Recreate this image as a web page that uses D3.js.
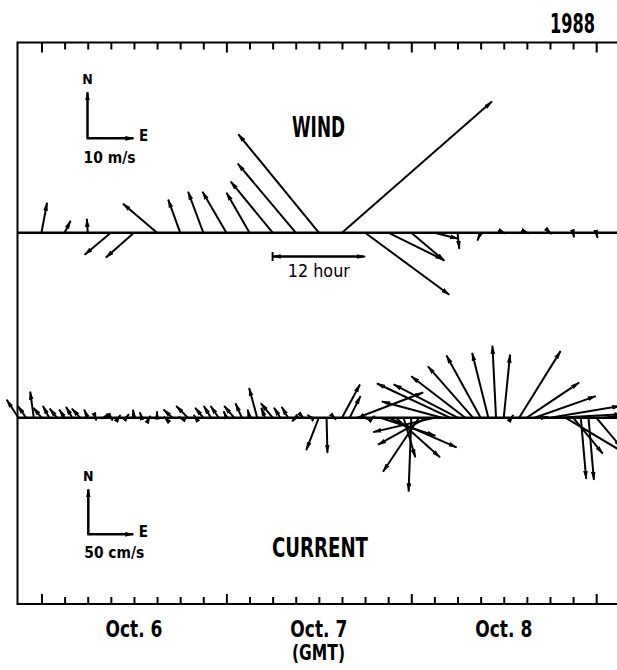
<!DOCTYPE html>
<html>
<head>
<meta charset="UTF-8">
<title>Wind and current 1988</title>
<script src="https://cdn.jsdelivr.net/npm/d3@7"></script>
<style>
body{margin:0;background:#fff}
text{font-family:"Liberation Sans Narrow","DejaVu Sans Condensed","Liberation Sans",sans-serif;font-weight:bold;fill:#000}
</style>
</head>
<body>
<script>
// wind, every 3 h from Oct 6 00 GMT (m/s)
var windStart = Date.UTC(1988, 9, 6, 0)
var windU = [1.2, 1.3, -0.2, -5.7, -6.1, -7.4, -2.6, -3.3, -5.2, -5.0, -9.1, -12.6, -17.5, 32.6, 18.3, 12.0, 7.2, 5.2, 0.4, -0.7, 0.4, 0.4, 0.3, 0.2, 0.3]
var windV = [6.5, 2.6, 3.0, -4.8, -5.4, 6.3, 7.2, 8.9, 8.9, 8.7, 11.1, 15.0, 21.4, 28.5, -13.5, -5.9, -6.1, -1.3, -3.5, -1.7, -0.2, -0.2, -0.3, -1.0, -1.1]

// current, hourly from Oct 5 21 GMT (cm/s)
var curStart = Date.UTC(1988, 9, 5, 21)
var curU = [-13, -9, -4, -9, -7, -8, -6, -7, -9, -4, 1, -2, 2, 2, 3, -1, -2, 1, 0, -1,
            -10, -2, -13, -2, -9, -8, -9, -3, -11, -7, -2, -9, -4, -13, -7, -7, -4, 1, -4, -14,
            1, 2, 20, 12, 73, 3, 2, 61, 76, 49, 13, -3, -40, -54, -68, -67, -81, -71, -60, -50,
            -38, -18, -4, 7, 2, 46, 58, 68, 7, 78, 72, 67, 33, 6, 6, 28, 22, 17]
var curV = [20, 13, 29, 11, 13, 10, 9, 12, 10, 9, -3, -1, -3, 3, 4, 9, 6, 2, 7, 1,
            9, 1, 13, 3, 11, 13, 13, 7, 13, 16, 9, 33, 11, 16, 11, 12, -4, -1, 3, -36,
            -39, -2, 37, 24, 28, -2, 2, -20, -33, -44, -44, -82, -60, -30, -16, 18, 38, 37, 46, 57,
            69, 72, 80, 70, 3, 74, 39, 24, 1, 13, 4, -40, -40, -68, -69, -33, 3, 2]

var dayLabels = ["Oct. 6", "Oct. 7", "Oct. 8"]
var dayNoons = [Date.UTC(1988, 9, 6, 12), Date.UTC(1988, 9, 7, 12), Date.UTC(1988, 9, 8, 12)]

var W = 617, H = 670
var frameL = 17.5, frameT = 42.5, frameB = 604
var windY = 232.7, curY = 417.7

var svg = d3.select("body").append("svg")
  .attr("width", W).attr("height", H)
  .style("background", "white")

var x = d3.scaleUtc()
  .domain([Date.UTC(1988, 9, 6), Date.UTC(1988, 9, 9)])
  .range([41.5, 596.2])
var ws = d3.scaleLinear().domain([0, 10]).range([0, 46])   // m/s -> px
var cs = d3.scaleLinear().domain([0, 50]).range([0, 45])   // cm/s -> px

var defs = svg.append("defs")
defs.append("marker")
  .attr("id", "head")
  .attr("markerUnits", "userSpaceOnUse")
  .attr("viewBox", "0 -3 10 6")
  .attr("refX", 9).attr("refY", 0)
  .attr("markerWidth", 9).attr("markerHeight", 5.4)
  .attr("orient", "auto")
  .append("path").attr("d", "M0,-2.6L10,0L0,2.6Z").attr("fill", "#000")

// frame
svg.append("path")
  .attr("d", "M" + W + "," + frameT + "H" + frameL + "V" + frameB + "H" + W)
  .attr("fill", "none").attr("stroke", "#000").attr("stroke-width", 2)

// ticks every 3 hours, longer at midnight
var tv = d3.utcHours(Date.UTC(1988, 9, 6), Date.UTC(1988, 9, 9, 1), 3)
var minor = tv.filter(function(d) { return d.getUTCHours() != 0 })
var major = tv.filter(function(d) { return d.getUTCHours() == 0 })

function tickAxis(gen, vals, size, y) {
  var g = svg.append("g").attr("transform", "translate(0," + y + ")")
    .call(gen(x).tickValues(vals).tickSize(size).tickFormat(""))
  g.select(".domain").remove()
  g.selectAll("line").attr("stroke-width", 2)
}
tickAxis(d3.axisBottom, minor, 7, frameT)
tickAxis(d3.axisBottom, major, 10, frameT)
tickAxis(d3.axisTop, minor, 7, frameB)
tickAxis(d3.axisTop, major, 10, frameB)

// zero lines
svg.append("line").attr("x1", frameL).attr("x2", W).attr("y1", windY).attr("y2", windY)
  .attr("stroke", "#000").attr("stroke-width", 2.5)
svg.append("line").attr("x1", frameL).attr("x2", W).attr("y1", curY).attr("y2", curY)
  .attr("stroke", "#000").attr("stroke-width", 2.5)

function sticks(u, v, start, stepH, s, y0) {
  var data = u.map(function(d, i) { return {t: start + i * stepH * 3600000, u: d, v: v[i]} })
  svg.append("g").selectAll("line").data(data).enter().append("line")
    .attr("x1", function(d) { return x(d.t) })
    .attr("y1", y0)
    .attr("x2", function(d) { return x(d.t) + (d.u < 0 ? -s(-d.u) : s(d.u)) })
    .attr("y2", function(d) { return y0 - (d.v < 0 ? -s(-d.v) : s(d.v)) })
    .attr("stroke", "#000").attr("stroke-width", 2)
    .attr("marker-end", "url(#head)")
}
sticks(windU, windV, windStart, 3, ws, windY)
sticks(curU, curV, curStart, 1, cs, curY)

// scale keys
function key(ox, oy, s, val, unit, unitW, unitY) {
  svg.append("line").attr("x1", ox).attr("y1", oy).attr("x2", ox).attr("y2", oy - s(val))
    .attr("stroke", "#000").attr("stroke-width", 2.5).attr("marker-end", "url(#head)")
  svg.append("line").attr("x1", ox - 1).attr("y1", oy).attr("x2", ox + s(val)).attr("y2", oy)
    .attr("stroke", "#000").attr("stroke-width", 2.5).attr("marker-end", "url(#head)")
  svg.append("text").attr("x", ox).attr("y", oy - s(val) - 8).attr("text-anchor", "middle")
    .attr("font-size", 14).text("N")
  svg.append("text").attr("x", ox + s(val) + 10).attr("y", oy + 3).attr("text-anchor", "middle")
    .attr("font-size", 15).text("E")
  svg.append("text").attr("x", ox - 4).attr("y", unitY).attr("font-size", 16)
    .attr("textLength", unitW).attr("lengthAdjust", "spacingAndGlyphs").text(unit)
}
key(87.5, 138.3, ws, 10, "10 m/s", 52, 163)
key(88.3, 534.3, cs, 50, "50 cm/s", 60, 558)

// 12 hour bar
var b0 = x(Date.UTC(1988, 9, 7, 6)), b1 = x(Date.UTC(1988, 9, 7, 18))
svg.append("line").attr("x1", b0 + 1).attr("x2", b1).attr("y1", 256.5).attr("y2", 256.5)
  .attr("stroke", "#000").attr("stroke-width", 2.2).attr("marker-end", "url(#head)")
svg.append("line").attr("x1", b1 - 2).attr("x2", b0).attr("y1", 256.5).attr("y2", 256.5)
  .attr("stroke", "#000").attr("stroke-width", 2.2).attr("marker-end", "url(#head)")
svg.append("line").attr("x1", b0).attr("x2", b0).attr("y1", 252).attr("y2", 261)
  .attr("stroke", "#000").attr("stroke-width", 2)
svg.append("text").attr("x", (b0 + b1) / 2).attr("y", 277).attr("text-anchor", "middle")
  .attr("font-size", 17).style("font-weight", "normal")
  .attr("textLength", 62).attr("lengthAdjust", "spacingAndGlyphs").text("12 hour")

// titles
function label(t, cx, y, size, w) {
  svg.append("text").attr("x", cx - w / 2).attr("y", y).attr("font-size", size)
    .attr("textLength", w).attr("lengthAdjust", "spacingAndGlyphs").text(t)
}
label("1988", 572.5, 33, 26, 45)
label("WIND", 318.5, 137, 28, 53)
label("CURRENT", 320, 557, 27, 96)
dayLabels.forEach(function(t, i) { label(t, x(dayNoons[i]), 636.5, 23, 57) })
label("(GMT)", 318.5, 660, 22, 53)
</script>
</body>
</html>
